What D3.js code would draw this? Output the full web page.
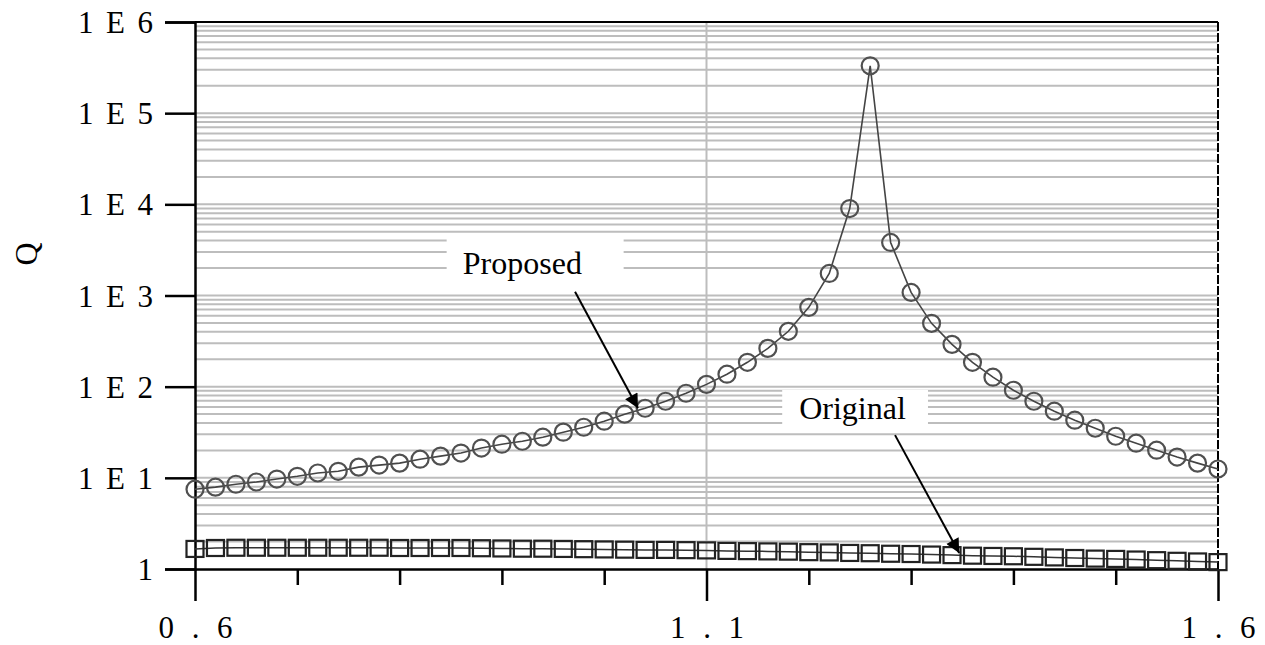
<!DOCTYPE html>
<html>
<head>
<meta charset="utf-8">
<script src="https://cdn.jsdelivr.net/npm/d3@7"></script>
<style>
  body { margin: 0; background: #fff; }
  text { font-family: "Liberation Serif", "Times New Roman", serif; fill: #000; }
</style>
</head>
<body>
<script>
// x values shared by both series (0.6 .. 1.6, step 0.02)
var xValues = [0.60,0.62,0.64,0.66,0.68,0.70,0.72,0.74,0.76,0.78,
               0.80,0.82,0.84,0.86,0.88,0.90,0.92,0.94,0.96,0.98,
               1.00,1.02,1.04,1.06,1.08,1.10,1.12,1.14,1.16,1.18,
               1.20,1.22,1.24,1.26,1.28,1.30,1.32,1.34,1.36,1.38,
               1.40,1.42,1.44,1.46,1.48,1.50,1.52,1.54,1.56,1.58,1.60];

var proposed = [7.5,7.9,8.5,9.0,9.7,10.4,11.3,11.8,13.1,13.8,
                14.5,16.0,17.3,18.7,21.2,23.4,25.2,27.9,31.7,35.9,
                41.8,49.9,58.0,69.2,84.7,106,137,185,263,405,
                741,1746,8990,331000,3819,1081,495,291,185,127,
                91.4,69.2,53.8,42.9,35.0,28.6,24.0,20.1,16.9,14.5,12.5];

var original = [1.66,1.70,1.71,1.71,1.71,1.71,1.71,1.71,1.71,1.71,
                1.70,1.70,1.70,1.70,1.69,1.68,1.67,1.67,1.66,1.65,
                1.64,1.63,1.62,1.62,1.61,1.60,1.58,1.57,1.56,1.55,
                1.53,1.52,1.50,1.49,1.47,1.46,1.44,1.42,1.40,1.39,
                1.38,1.36,1.34,1.32,1.30,1.29,1.27,1.25,1.23,1.21,1.19];

var yTicks = [1,1e1,1e2,1e3,1e4,1e5,1e6];
var yTickLabels = ["1","1 E 1","1 E 2","1 E 3","1 E 4","1 E 5","1 E 6"];
var xMinorTicks = [0.7,0.8,0.9,1.0,1.2,1.3,1.4,1.5];
var xMajorTicks = [0.6,1.1,1.6];
var xTickLabels = ["0 . 6","1 . 1","1 . 6"];

var w = 1265, h = 645;
var pLeft = 195, pRight = 1218, pTop = 22, pBottom = 569;

var svg = d3.select("body").append("svg")
    .attr("width", w)
    .attr("height", h);

var x = d3.scaleLinear().domain([0.6,1.6]).range([pLeft,pRight]);
var y = d3.scaleLog().domain([1,1e6]).range([pBottom,pTop]);

/* gray log grid */
var gridVals = [];
for (var k = 0; k < 6; k++) {
  for (var m = 1; m <= 9; m++) {
    var v = m * Math.pow(10,k);
    if (v > 1) gridVals.push(v);
  }
}
svg.append("g").selectAll("line.grid")
   .data(gridVals)
   .enter().append("line")
   .attr("class","grid")
   .attr("x1",pLeft).attr("x2",pRight)
   .attr("y1",d=>y(d)).attr("y2",d=>y(d))
   .attr("stroke","#bdbdbd")
   .attr("stroke-width",2);

svg.append("line")
   .attr("x1",x(1.1)).attr("x2",x(1.1))
   .attr("y1",pTop).attr("y2",pBottom)
   .attr("stroke","#bdbdbd")
   .attr("stroke-width",2);

/* annotation boxes hide the grid */
var annotations = [
  {text:"Proposed", tx:0.92, ty:1700, box:[0.846,1.019,4400,1130], from:[0.9715,1100], to:[1.033,58]},
  {text:"Original", tx:1.2427, ty:43.9, box:[1.174,1.3165,92,33], from:[1.2843,29.4], to:[1.347,1.5]}
];
svg.append("g").selectAll("rect")
   .data(annotations)
   .enter().append("rect")
   .attr("x",d=>x(d.box[0]))
   .attr("width",d=>x(d.box[1])-x(d.box[0]))
   .attr("y",d=>y(d.box[2]))
   .attr("height",d=>y(d.box[3])-y(d.box[2]))
   .attr("fill","#fff");

/* frame */
svg.append("line")
   .attr("x1",pLeft).attr("x2",pRight).attr("y1",pTop).attr("y2",pTop)
   .attr("stroke","#000").attr("stroke-width",2);
svg.append("line")
   .attr("x1",pRight).attr("x2",pRight).attr("y1",pTop).attr("y2",pBottom)
   .attr("stroke","#000").attr("stroke-width",2)
   .attr("stroke-dasharray","9,2");

/* y axis */
var yAxis = d3.axisLeft(y)
    .tickValues(yTicks)
    .tickSize(30)
    .tickPadding(12)
    .tickFormat((d,i)=>yTickLabels[i]);
var gy = svg.append("g")
    .attr("transform","translate("+pLeft+",0)")
    .call(yAxis);
gy.select(".domain").attr("stroke","#000").attr("stroke-width",2.5);
gy.selectAll(".tick line").attr("stroke","#000").attr("stroke-width",2.5);
gy.selectAll(".tick text")
  .attr("font-size",31)
  .attr("dy","0.34em")
  .each(function(d,i){
     if (yTickLabels[i].length > 1) d3.select(this).attr("textLength",75).attr("lengthAdjust","spacing");
  });

/* x axis: minor then major ticks */
var gxMinor = svg.append("g")
    .attr("transform","translate(0,"+pBottom+")")
    .call(d3.axisBottom(x).tickValues(xMinorTicks).tickSize(16).tickFormat(""));
gxMinor.select(".domain").remove();
gxMinor.selectAll(".tick line").attr("stroke","#000").attr("stroke-width",2.5);

var gx = svg.append("g")
    .attr("transform","translate(0,"+pBottom+")")
    .call(d3.axisBottom(x).tickValues(xMajorTicks).tickSize(32).tickSizeOuter(0)
          .tickFormat((d,i)=>xTickLabels[i]));
gx.select(".domain").attr("stroke","#000").attr("stroke-width",2.5);
gx.selectAll(".tick line").attr("stroke","#000").attr("stroke-width",2.5);
gx.selectAll(".tick text")
  .attr("font-size",31)
  .attr("y",69)
  .attr("dy",0)
  .attr("textLength",74)
  .attr("lengthAdjust","spacing");

/* y label */
svg.append("text")
   .attr("transform","translate(37,254) rotate(-90)")
   .attr("text-anchor","middle")
   .attr("font-size",32)
   .text("Q");

/* series */
var ptsP = xValues.map((d,i)=>[d,proposed[i]]);
var ptsO = xValues.map((d,i)=>[d,original[i]]);
var line = d3.line().x(d=>x(d[0])).y(d=>y(d[1]));

svg.append("path").datum(ptsO)
   .attr("d",line).attr("fill","none")
   .attr("stroke","#333").attr("stroke-width",1.5);
svg.append("g").selectAll("rect.sq")
   .data(ptsO)
   .enter().append("rect")
   .attr("class","sq")
   .attr("x",d=>x(d[0])-8.5).attr("y",d=>y(d[1])-8)
   .attr("width",17).attr("height",16)
   .attr("fill","none")
   .attr("stroke","#222").attr("stroke-width",2.2);

svg.append("path").datum(ptsP)
   .attr("d",line).attr("fill","none")
   .attr("stroke","#444").attr("stroke-width",1.6);
svg.append("g").selectAll("circle")
   .data(ptsP)
   .enter().append("circle")
   .attr("cx",d=>x(d[0])).attr("cy",d=>y(d[1]))
   .attr("r",8.5)
   .attr("fill","none")
   .attr("stroke","#505050").attr("stroke-width",2.2);

/* annotation text and arrows */
svg.append("defs").append("marker")
   .attr("id","arrow")
   .attr("viewBox","0 0 10 10")
   .attr("refX",10).attr("refY",5)
   .attr("markerWidth",18).attr("markerHeight",14)
   .attr("markerUnits","userSpaceOnUse")
   .attr("orient","auto")
   .append("path")
   .attr("d","M0,0 L10,5 L0,10 z")
   .attr("fill","#000");

var ann = svg.append("g");
ann.selectAll("text")
   .data(annotations)
   .enter().append("text")
   .attr("x",d=>x(d.tx)).attr("y",d=>y(d.ty))
   .attr("text-anchor","middle")
   .attr("font-size",32)
   .text(d=>d.text);
ann.selectAll("line")
   .data(annotations)
   .enter().append("line")
   .attr("x1",d=>x(d.from[0])).attr("y1",d=>y(d.from[1]))
   .attr("x2",d=>x(d.to[0])).attr("y2",d=>y(d.to[1]))
   .attr("stroke","#000").attr("stroke-width",2)
   .attr("marker-end","url(#arrow)");
</script>
</body>
</html>
